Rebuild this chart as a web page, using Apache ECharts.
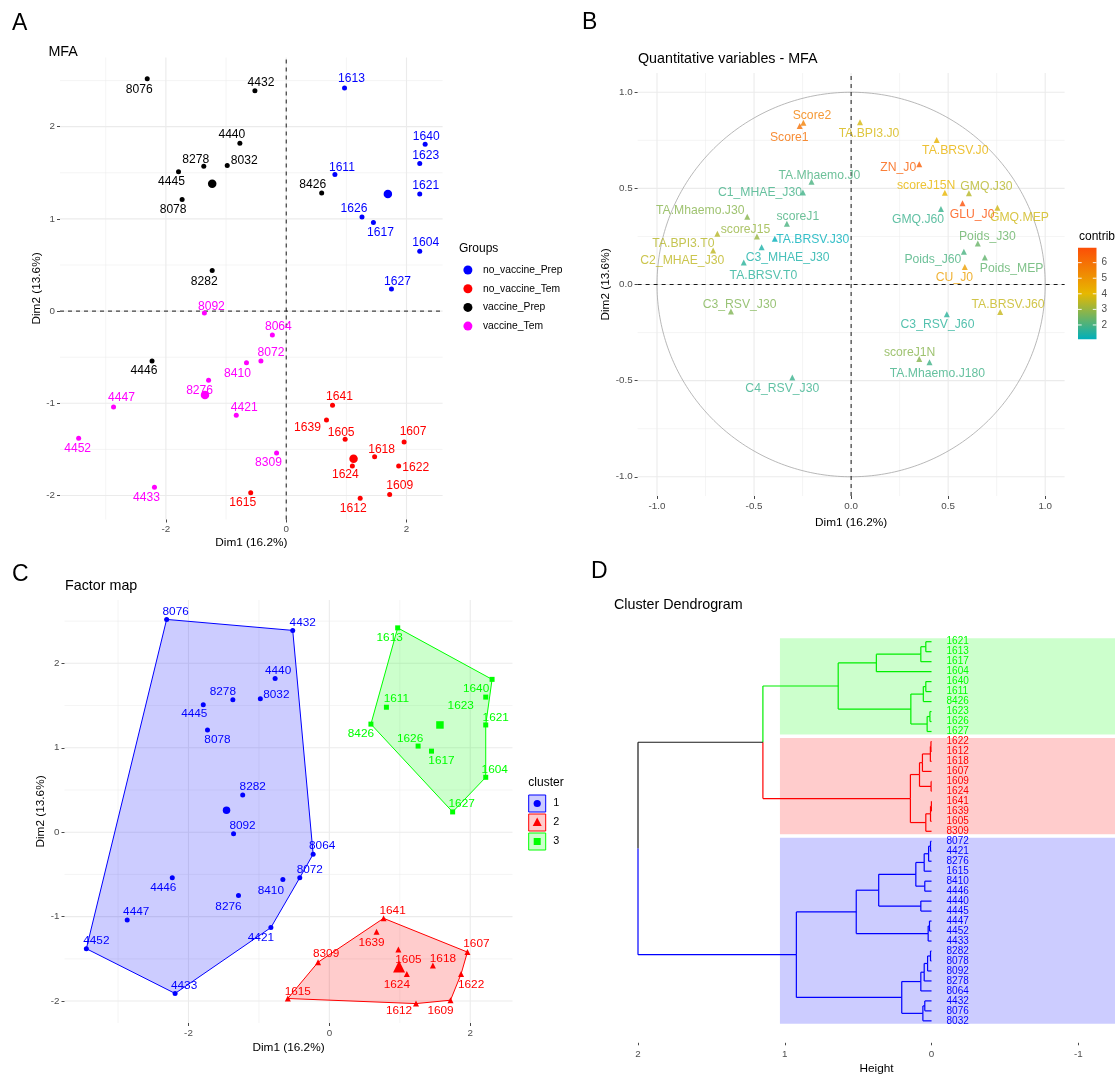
<!DOCTYPE html>
<html><head><meta charset="utf-8">
<script src="https://cdn.jsdelivr.net/npm/echarts@6.0.0/dist/echarts.min.js"></script>
<style>html,body{margin:0;padding:0;background:#fff}#main{width:1115px;height:1075px}</style>
</head><body><div id="main"></div>
<script>
// ================= DATA =================
// Individuals (panels A and C)
const indIds = ['8076','4432','4440','8278','8032','4445','8078','8282','8426','4446',
  '1613','1640','1623','1611','1621','1626','1617','1604','1627',
  '8092','8064','8072','8410','8276','4447','4421','4452','8309','4433',
  '1641','1639','1605','1607','1618','1624','1622','1609','1612','1615'];
const dim1 = [-2.31,-0.52,-0.77,-1.37,-0.98,-1.79,-1.73,-1.23,0.59,-2.23,
  0.97,2.31,2.22,0.81,2.22,1.26,1.45,2.22,1.75,
  -1.36,-0.23,-0.42,-0.66,-1.29,-2.87,-0.83,-3.45,-0.16,-2.19,
  0.77,0.67,0.98,1.96,1.47,1.10,1.87,1.72,1.23,-0.59];
const dim2 = [2.52,2.39,1.82,1.57,1.58,1.51,1.21,0.44,1.28,-0.54,
  2.42,1.81,1.60,1.48,1.27,1.02,0.96,0.65,0.24,
  -0.02,-0.26,-0.54,-0.56,-0.75,-1.04,-1.13,-1.38,-1.54,-1.91,
  -1.02,-1.18,-1.39,-1.42,-1.58,-1.68,-1.68,-1.99,-2.03,-1.97];
const indGroup = [2,2,2,2,2,2,2,2,2,2, 0,0,0,0,0,0,0,0,0, 3,3,3,3,3,3,3,3,3,3, 1,1,1,1,1,1,1,1,1,1];
const indCluster = [0,0,0,0,0,0,0,0,2,0, 2,2,2,2,2,2,2,2,2, 0,0,0,0,0,0,0,0,1,0, 1,1,1,1,1,1,1,1,1,1];

const groupNames = ['no_vaccine_Prep','no_vaccine_Tem','vaccine_Prep','vaccine_Tem'];
const groupMeanDim1 = [1.69, 1.12, -1.23, -1.35];
const groupMeanDim2 = [1.27, -1.60, 1.38, -0.91];

const clusterNames = ['1','2','3'];
const clusterMeanDim1 = [-1.46, 0.99, 1.57];
const clusterMeanDim2 = [0.26, -1.59, 1.27];
const hullMembers = [
  ['8076','4432','8064','8072','4421','4433','4452'],
  ['1641','1607','1622','1609','1612','1615','8309'],
  ['1613','1640','1621','1604','1627','8426']
];

// Quantitative variables (panel B)
const varNames = ['Score2','Score1','TA.BPI3.J0','TA.BRSV.J0','ZN_J0','TA.Mhaemo.J0','C1_MHAE_J30','scoreJ15N','GMQ.J30','GLU_J0',
  'GMQ.J60','GMQ.MEP','TA.Mhaemo.J30','scoreJ1','TA.BPI3.T0','scoreJ15','TA.BRSV.J30','C3_MHAE_J30','C2_MHAE_J30','TA.BRSV.T0',
  'Poids_J30','Poids_J60','Poids_MEP','CU_J0','C3_RSV_J30','C3_RSV_J60','TA.BRSV.J60','scoreJ1N','TA.Mhaemo.J180','C4_RSV_J30'];
const varDim1 = [-0.246,-0.265,0.046,0.441,0.351,-0.204,-0.248,0.483,0.607,0.574,
  0.463,0.754,-0.535,-0.331,-0.689,-0.485,-0.393,-0.461,-0.711,-0.553,
  0.653,0.581,0.689,0.586,-0.619,0.493,0.768,0.351,0.404,-0.303];
const varDim2 = [0.841,0.825,0.844,0.752,0.626,0.535,0.479,0.477,0.474,0.423,
  0.393,0.399,0.353,0.316,0.264,0.250,0.238,0.194,0.177,0.115,
  0.213,0.170,0.140,0.091,-0.140,-0.155,-0.143,-0.388,-0.405,-0.484];
const varContrib = [5.6,6.0,3.8,4.2,6.5,2.0,1.9,4.1,3.4,6.9,
  1.8,3.7,2.8,2.0,3.4,3.0,1.1,1.4,3.5,1.6,
  2.4,2.0,2.3,4.7,2.7,1.6,3.6,2.8,1.9,1.8];
const contribRange = [1.08, 6.96];
const contribTicks = [2,3,4,5,6];

// Dendrogram (panel D): leaf order top->bottom, cluster of each leaf, merges
const leafOrder = ['1621','1613','1617','1604','1640','1611','8426','1623','1626','1627',
  '1622','1612','1618','1607','1609','1624','1641','1639','1605','8309',
  '8072','4421','8276','1615','8410','4446','4440','4445','4447','4452','4433',
  '8282','8078','8092','8278','8064','4432','8076','8032'];
const leafCluster = [2,2,2,2,2,2,2,2,2,2, 1,1,1,1,1,1,1,1,1,1, 0,0,0,0,0,0,0,0,0,0,0,0,0,0,0,0,0,0,0];
// string = leaf id, number = index of an earlier merge
const mergeA = ['1621',0,1,'1640',3,'1623',5,4,2, '1622',9,10,'1609',11,'1641',14,15,13,8,
  '8072',19,20,'8410',21,'4440',23,'4447',26,25,'8282',29,30,31,'4432',33,32,28,18];
const mergeB = ['1613','1617','1604','1611','8426','1626','1627',6,7, '1612','1618','1607','1624',12,'1639','1605','8309',16,17,
  '4421','8276','1615','4446',22,'4445',24,'4452','4433',27,'8078','8092','8278','8064','8076','8032',34,35,36];
const mergeHeight = [0.039,0.073,0.376,0.039,0.056,0.011,0.030,0.141,0.636, 0.004,0.008,0.062,0.003,0.082,0.001,0.007,0.039,0.144,1.149,
  0.007,0.020,0.050,0.046,0.107,0.073,0.360,0.014,0.023,0.513,0.007,0.027,0.050,0.073,0.046,0.059,0.203,0.921,2.0];
const rectLeftHeight = 1.033;

// Axis tick values
const ticksIndX = [-2,0,2], minorIndX = [-3,-1,1];
const ticksIndY = [-2,-1,0,1,2], minorIndY = [-1.5,-0.5,0.5,1.5,2.5];
const ticksVar = [-1,-0.5,0,0.5,1], minorVar = [-0.75,-0.25,0.25,0.75];
const ticksHeight = [2,1,0,-1];

// ================= STYLE / LAYOUT =================
const FONT = '"Liberation Sans", Arial, Helvetica, sans-serif';
const groupColors = ['#0000FF','#FF0000','#000000','#FF00FF'];
const clusterColors = ['#0000FF','#FF0000','#00FF00'];
const clusterFills = ['rgba(0,0,255,0.2)','rgba(255,0,0,0.2)','rgba(0,255,0,0.2)'];
const clusterSymbols = ['circle','triangle','rect'];
const gradCols = ['#00AFBB','#E7B800','#FC4E07'];
const TICKFONT = 9.8;

const xrA = [-3.76, 2.60], yrA = [-2.26, 2.75];
const xrB = [-1.1, 1.1], yrB = [-1.1, 1.1];
const xrD = [-1.25, 2.0], yrD = [-4, 40.2];

const labelOffA = {
'8076':[-8,11],'4432':[6,-8],'4440':[-8,-9],'8278':[-8,-7],'8032':[17,-5],'4445':[-7,10],'8078':[-9,10],'8282':[-8,11],'8426':[-9,-8],'4446':[-8,10],
'1613':[7,-9],'1640':[1,-8],'1623':[6,-8],'1611':[7,-7],'1621':[6,-8],'1626':[-8,-8],'1617':[7,10],'1604':[6,-8],'1627':[6,-7],
'8092':[7,-6],'8064':[6,-8],'8072':[10,-8],'8410':[-9,11],'8276':[-9,10],'4447':[8,-9],'4421':[8,-8],'4452':[-1,10],'8309':[-8,10],'4433':[-8,10],
'1641':[7,-8],'1639':[-19,8],'1605':[-4,-7],'1607':[9,-10],'1618':[7,-7],'1624':[-7,9],'1622':[17,2],'1609':[10,-9],'1612':[-7,10],'1615':[-8,10]};
const labelOffC = {
'8076':[9,-8],'4432':[10,-8],'4440':[3,-8],'8278':[-10,-8],'8032':[16,-4],'4445':[-9,9],'8078':[10,10],'8282':[10,-8],'8092':[9,-8],
'1613':[-8,10],'1640':[-16,9],'1623':[-25,9],'1611':[10,-8],'8426':[-10,10],'1621':[10,-7],'1626':[-8,-7],'1617':[10,10],'1604':[9,-8],'1627':[9,-8],
'8064':[9,-8],'8072':[10,-8],'4446':[-9,10],'8410':[-12,11],'8276':[-10,11],'4447':[9,-8],'4421':[-10,10],'4452':[10,-8],'4433':[9,-8],
'1641':[9,-8],'1639':[-5,11],'8309':[8,-8],'1605':[10,10],'1618':[10,-7],'1607':[9,-8],'1624':[-10,11],'1622':[10,11],'1615':[10,-7],'1612':[-17,7],'1609':[-10,11]};
const labelOffB = {
'Score2':[8.6,-7],'Score1':[-10.4,11.8],'TA.BPI3.J0':[9,11.8],'TA.BRSV.J0':[18.6,11],'ZN_J0':[-21,3.4],'TA.Mhaemo.J0':[7.9,-6.4],
'C1_MHAE_J30':[-43,0.7],'scoreJ15N':[-18.7,-6.7],'GMQ.J30':[17.5,-7],'GLU_J0':[9.6,11.4],'GMQ.J60':[-22.9,10.8],'GMQ.MEP':[22,10],
'TA.Mhaemo.J30':[-47,-6.4],'scoreJ1':[11,-6.7],'TA.BPI3.T0':[-34,9.4],'scoreJ15':[-11.5,-6.7],'TA.BRSV.J30':[38,1],'C3_MHAE_J30':[26,10.8],
'C2_MHAE_J30':[-30.8,10.4],'TA.BRSV.T0':[19.7,13.2],'Poids_J30':[9.6,-7.4],'Poids_J60':[-31,7.4],'Poids_MEP':[26.8,10.8],'CU_J0':[-10.4,10.4],
'C3_RSV_J30':[8.6,-7],'C3_RSV_J60':[-9.3,10.8],'TA.BRSV.J60':[7.9,-7.7],'scoreJ1N':[-9.6,-6.7],'TA.Mhaemo.J180':[7.9,11],'C4_RSV_J30':[-10,10.8]};

// ================= BUILD =================
const chart = echarts.init(document.getElementById('main'), null, {renderer:'canvas', width:1115, height:1075});

function mkAxis(gi, range, ticks, extra) {
  return Object.assign({
    type:'value', gridIndex:gi, min:range[0], max:range[1],
    axisLine:{show:false, onZero:false},
    axisTick:{show:true, customValues:ticks, length:3, lineStyle:{color:'#333', width:0.9}},
    axisLabel:{show:true, customValues:ticks, color:'#4D4D4D', fontSize:TICKFONT, fontFamily:FONT, margin:5},
    splitLine:{show:false}, minorSplitLine:{show:false}, minorTick:{show:false},
    nameLocation:'middle',
    nameTextStyle:{color:'#000', fontSize:11.8, fontFamily:FONT}
  }, extra || {});
}

function gridLines(ai, xr, yr, xMaj, xMin, yMaj, yMin) {
  const data = [];
  xMaj.forEach(v => data.push([v, 0, 1]));
  xMin.forEach(v => data.push([v, 0, 0]));
  yMaj.forEach(v => data.push([v, 1, 1]));
  yMin.forEach(v => data.push([v, 1, 0]));
  return {type:'custom', xAxisIndex:ai, yAxisIndex:ai, silent:true, z:0, data,
    renderItem:(p, api) => {
      const v = api.value(0), o = api.value(1), m = api.value(2);
      const a = o === 0 ? api.coord([v, yr[0]]) : api.coord([xr[0], v]);
      const b = o === 0 ? api.coord([v, yr[1]]) : api.coord([xr[1], v]);
      return {type:'line', shape:{x1:a[0], y1:a[1], x2:b[0], y2:b[1]}, style:{stroke:'#EBEBEB', lineWidth: m ? 1.1 : 0.55}};
    }};
}
function zeroLines(ai, xr, yr) {
  return {type:'custom', xAxisIndex:ai, yAxisIndex:ai, silent:true, z:1, data:[[0,0],[0,1]],
    renderItem:(p, api) => {
      const o = api.value(1);
      const a = o === 0 ? api.coord([0, yr[0]]) : api.coord([xr[0], 0]);
      const b = o === 0 ? api.coord([0, yr[1]]) : api.coord([xr[1], 0]);
      return {type:'line', shape:{x1:a[0], y1:a[1], x2:b[0], y2:b[1]}, style:{stroke:'#000', lineWidth:0.9, lineDash:[4,4]}};
    }};
}

const series = [];
// ---- Panel A ----
series.push(gridLines(0, xrA, yrA, ticksIndX, minorIndX, ticksIndY, minorIndY));
series.push(zeroLines(0, xrA, yrA));
groupNames.forEach((g, gi) => {
  const data = [];
  indIds.forEach((id, i) => { if (indGroup[i] === gi) data.push({name:id, value:[dim1[i], dim2[i]], label:{offset:labelOffA[id]}}); });
  series.push({type:'scatter', name:g, xAxisIndex:0, yAxisIndex:0, symbol:'circle', symbolSize:5, z:3,
    itemStyle:{color:groupColors[gi], opacity:1},
    label:{show:true, position:'inside', formatter:'{b}', color:groupColors[gi], fontSize:12.1, fontFamily:FONT, textBorderWidth:0},
    emphasis:{disabled:true}, data});
});
groupNames.forEach((g, gi) => {
  series.push({type:'scatter', name:'mean '+g, xAxisIndex:0, yAxisIndex:0, symbol:'circle', symbolSize:8.5, z:3,
    itemStyle:{color:groupColors[gi], opacity:1}, emphasis:{disabled:true}, data:[[groupMeanDim1[gi], groupMeanDim2[gi]]]});
});

// ---- Panel B ----
series.push(gridLines(1, xrB, yrB, ticksVar, minorVar, ticksVar, minorVar));
series.push({type:'custom', xAxisIndex:1, yAxisIndex:1, silent:true, z:1, data:[[0,0]],
  renderItem:(p, api) => {
    const pts = [];
    for (let k = 0; k <= 360; k++) { const t = k * Math.PI / 180; pts.push(api.coord([Math.cos(t), Math.sin(t)])); }
    return {type:'polyline', shape:{points:pts}, style:{stroke:'#A6A6A6', lineWidth:0.8, fill:null}};
  }});
series.push(zeroLines(1, xrB, yrB));
const varSeriesIndex = series.length;
series.push({type:'scatter', name:'variables', xAxisIndex:1, yAxisIndex:1, symbol:'triangle', symbolSize:6, z:3,
  label:{show:true, position:'inside', formatter:'{b}', color:'inherit', fontSize:12.2, fontFamily:FONT, textBorderWidth:0},
  emphasis:{disabled:true},
  data: varNames.map((n, i) => ({name:n, value:[varDim1[i], varDim2[i], varContrib[i]], label:{offset:labelOffB[n]}}))});

// ---- Panel C ----
series.push(gridLines(2, xrA, yrA, ticksIndX, minorIndX, ticksIndY, minorIndY));
series.push({type:'custom', xAxisIndex:2, yAxisIndex:2, silent:true, z:1, data:[[0,0],[0,0],[0,0]],
  renderItem:(p, api) => {
    const k = p.dataIndex;
    const pts = hullMembers[k].map(id => { const i = indIds.indexOf(id); return api.coord([dim1[i], dim2[i]]); });
    return {type:'polygon', shape:{points:pts}, style:{fill:clusterFills[k], stroke:clusterColors[k], lineWidth:1}};
  }});
clusterNames.forEach((c, ci) => {
  const data = [];
  indIds.forEach((id, i) => { if (indCluster[i] === ci) data.push({name:id, value:[dim1[i], dim2[i]], label:{offset:labelOffC[id]}}); });
  series.push({type:'scatter', name:'cluster '+c, xAxisIndex:2, yAxisIndex:2, symbol:clusterSymbols[ci],
    symbolSize: ci === 1 ? 6 : 5, z:3, itemStyle:{color:clusterColors[ci], opacity:1},
    label:{show:true, position:'inside', formatter:'{b}', color:clusterColors[ci], fontSize:11.8, fontFamily:FONT, textBorderWidth:0},
    emphasis:{disabled:true}, data});
});
clusterNames.forEach((c, ci) => {
  series.push({type:'scatter', name:'center '+c, xAxisIndex:2, yAxisIndex:2, symbol:clusterSymbols[ci],
    symbolSize: ci === 1 ? 12 : 7.5, z:3, itemStyle:{color:clusterColors[ci], opacity:1}, emphasis:{disabled:true},
    data:[[clusterMeanDim1[ci], clusterMeanDim2[ci]]]});
});

// ---- Panel D ----
const nodeY = [], nodeH = [], nodeC = [];
function refInfo(r) {
  if (typeof r === 'string') { const li = leafOrder.indexOf(r); return {y:li, h:0, c:leafCluster[li]}; }
  return {y:nodeY[r], h:nodeH[r], c:nodeC[r]};
}
const segs = [];
mergeA.forEach((a, k) => {
  const A = refInfo(a), B = refInfo(mergeB[k]);
  const h = mergeHeight[k], y = (A.y + B.y) / 2;
  nodeY[k] = y; nodeH[k] = h; nodeC[k] = (A.c === B.c) ? A.c : 3;
  segs.push([h, A.y, h, y, A.c]);
  segs.push([h, y, h, B.y, B.c]);
  segs.push([h, A.y, A.h, A.y, A.c]);
  segs.push([h, B.y, B.h, B.y, B.c]);
});
const dendColors = ['#0000FF','#FF0000','#00EE00','#1a1a1a'];
const rectData = clusterNames.map((c, ci) => {
  const idx = leafCluster.map((v, i) => v === ci ? i : -1).filter(i => i >= 0);
  return [rectLeftHeight, Math.min(...idx) - 0.35, Math.max(...idx) + 0.3, ci];
});
series.push({type:'custom', xAxisIndex:3, yAxisIndex:3, silent:true, z:0, data:rectData,
  renderItem:(p, api) => {
    const a = api.coord([api.value(0), api.value(1)]);
    const b = api.coord([xrD[0], api.value(2)]);
    return {type:'rect', shape:{x:a[0], y:a[1], width:b[0]-a[0], height:b[1]-a[1]}, style:{fill:clusterFills[api.value(3)]}};
  }});
series.push({type:'custom', xAxisIndex:3, yAxisIndex:3, silent:true, z:2, data:segs,
  renderItem:(p, api) => {
    const a = api.coord([api.value(0), api.value(1)]);
    const b = api.coord([api.value(2), api.value(3)]);
    return {type:'line', shape:{x1:a[0], y1:a[1], x2:b[0], y2:b[1]}, style:{stroke:dendColors[api.value(4)], lineWidth:1.2}};
  }});
series.push({type:'custom', xAxisIndex:3, yAxisIndex:3, silent:true, z:3, data:leafOrder.map((id, i) => [0, i, leafCluster[i]]),
  renderItem:(p, api) => {
    const a = api.coord([0, api.value(1)]);
    return {type:'text', x:a[0] + 15, y:a[1], style:{text:leafOrder[p.dataIndex], fill:clusterColors[api.value(2)],
      fontSize:10, fontFamily:FONT, align:'left', verticalAlign:'middle'}};
  }});

// ---- Colorbar ----
series.push({type:'custom', xAxisIndex:4, yAxisIndex:4, silent:true, z:2, data:[[0,0]],
  renderItem:(p, api) => {
    const a = api.coord([0, contribRange[1]]), b = api.coord([1, contribRange[0]]);
    return {type:'rect', shape:{x:a[0], y:a[1], width:b[0]-a[0], height:b[1]-a[1]},
      style:{fill:new echarts.graphic.LinearGradient(0,0,0,1,[{offset:0,color:gradCols[2]},{offset:0.5,color:gradCols[1]},{offset:1,color:gradCols[0]}])}};
  }});
series.push({type:'custom', xAxisIndex:4, yAxisIndex:4, silent:true, z:3, data:contribTicks.map(v => [0, v]),
  renderItem:(p, api) => {
    const a = api.coord([0, api.value(1)]), b = api.coord([1, api.value(1)]);
    return {type:'group', children:[
      {type:'line', shape:{x1:a[0], y1:a[1], x2:a[0]+3.7, y2:a[1]}, style:{stroke:'#fff', lineWidth:0.9}},
      {type:'line', shape:{x1:b[0]-3.7, y1:b[1], x2:b[0], y2:b[1]}, style:{stroke:'#fff', lineWidth:0.9}}]};
  }});

// ---- Text / legend graphics ----
function txt(x, y, s, size, extra) {
  return Object.assign({type:'text', x, y, silent:true, style:{text:s, fontSize:size, fontFamily:FONT, fill:'#000', align:'left', verticalAlign:'middle'}}, extra || {});
}
const graphics = [
  txt(12, 23.5, 'A', 23), txt(582, 22.5, 'B', 23), txt(12, 575, 'C', 23), txt(591, 572, 'D', 23),
  txt(48.4, 52.5, 'MFA', 14.3), txt(638, 59, 'Quantitative variables - MFA', 14.3),
  txt(65, 586.5, 'Factor map', 14.3), txt(614, 605.5, 'Cluster Dendrogram', 14.3),
  txt(459, 249, 'Groups', 12), txt(1079, 236.5, 'contrib', 12), txt(528.3, 782.5, 'cluster', 12)
];
clusterNames.forEach((c, ci) => {
  const y0 = 795 + 19 * ci, cx = 537.2, cy = y0 + 8.5;
  graphics.push({type:'rect', silent:true, shape:{x:528.7, y:y0, width:17, height:17}, style:{fill:clusterFills[ci], stroke:clusterColors[ci], lineWidth:1}});
  let sym;
  if (ci === 0) sym = {type:'circle', silent:true, shape:{cx, cy, r:3.6}, style:{fill:clusterColors[ci]}};
  else if (ci === 1) sym = {type:'polygon', silent:true, shape:{points:[[cx, cy-5],[cx-4.5, cy+3.5],[cx+4.5, cy+3.5]]}, style:{fill:clusterColors[ci]}};
  else sym = {type:'rect', silent:true, shape:{x:cx-3.5, y:cy-3.5, width:7, height:7}, style:{fill:clusterColors[ci]}};
  graphics.push(sym);
  graphics.push(txt(553.3, cy, c, 10.8));
});

const option = {
  animation:false,
  backgroundColor:'#fff',
  grid:[
    {left:60, top:57.5, width:382.6, height:462, outerBoundsMode:'none', containLabel:false},
    {left:637.6, top:73, width:427, height:423, outerBoundsMode:'none', containLabel:false},
    {left:64.5, top:600, width:448, height:423, outerBoundsMode:'none', containLabel:false},
    {left:638, top:601.8, width:477, height:441, outerBoundsMode:'none', containLabel:false},
    {left:1078, top:247.7, width:18.5, height:91.6, outerBoundsMode:'none', containLabel:false}
  ],
  xAxis:[
    mkAxis(0, xrA, ticksIndX, {name:'Dim1 (16.2%)', nameGap:17.5}),
    mkAxis(1, xrB, ticksVar, {name:'Dim1 (16.2%)', nameGap:20.5, axisLabel:{customValues:ticksVar, color:'#4D4D4D', fontSize:TICKFONT, fontFamily:FONT, margin:5, formatter:v => v.toFixed(1)}}),
    mkAxis(2, xrA, ticksIndX, {name:'Dim1 (16.2%)', nameGap:18.5}),
    mkAxis(3, xrD, ticksHeight, {inverse:true, name:'Height', nameGap:20,
      axisTick:{show:true, customValues:ticksHeight, length:2.5, lineStyle:{color:'#333', width:0.9}},
      axisLabel:{customValues:ticksHeight, color:'#4D4D4D', fontSize:TICKFONT, fontFamily:FONT, margin:6}}),
    {type:'value', gridIndex:4, min:0, max:1, show:false}
  ],
  yAxis:[
    mkAxis(0, yrA, ticksIndY, {name:'Dim2 (13.6%)', nameGap:16.5}),
    mkAxis(1, yrB, ticksVar, {name:'Dim2 (13.6%)', nameGap:25, axisLabel:{customValues:ticksVar, color:'#4D4D4D', fontSize:TICKFONT, fontFamily:FONT, margin:5, formatter:v => v.toFixed(1)}}),
    mkAxis(2, yrA, ticksIndY, {name:'Dim2 (13.6%)', nameGap:17.5}),
    {type:'value', gridIndex:3, min:yrD[0], max:yrD[1], inverse:true, show:false},
    mkAxis(4, contribRange, contribTicks, {position:'right', axisTick:{show:false}, name:'',
      axisLabel:{customValues:contribTicks, color:'#4D4D4D', fontSize:10, fontFamily:FONT, margin:5}})
  ],
  visualMap:[{type:'continuous', show:false, min:contribRange[0], max:contribRange[1], dimension:2, seriesIndex:varSeriesIndex,
    inRange:{color:gradCols}}],
  legend:[{data:groupNames, orient:'vertical', left:463.4, top:265, itemWidth:20, itemHeight:9, itemGap:8.7, icon:'circle',
    selectedMode:false, padding:0, textStyle:{fontSize:10.3, color:'#000', fontFamily:FONT}}],
  graphic: graphics,
  series
};
chart.setOption(option);
</script></body></html>
